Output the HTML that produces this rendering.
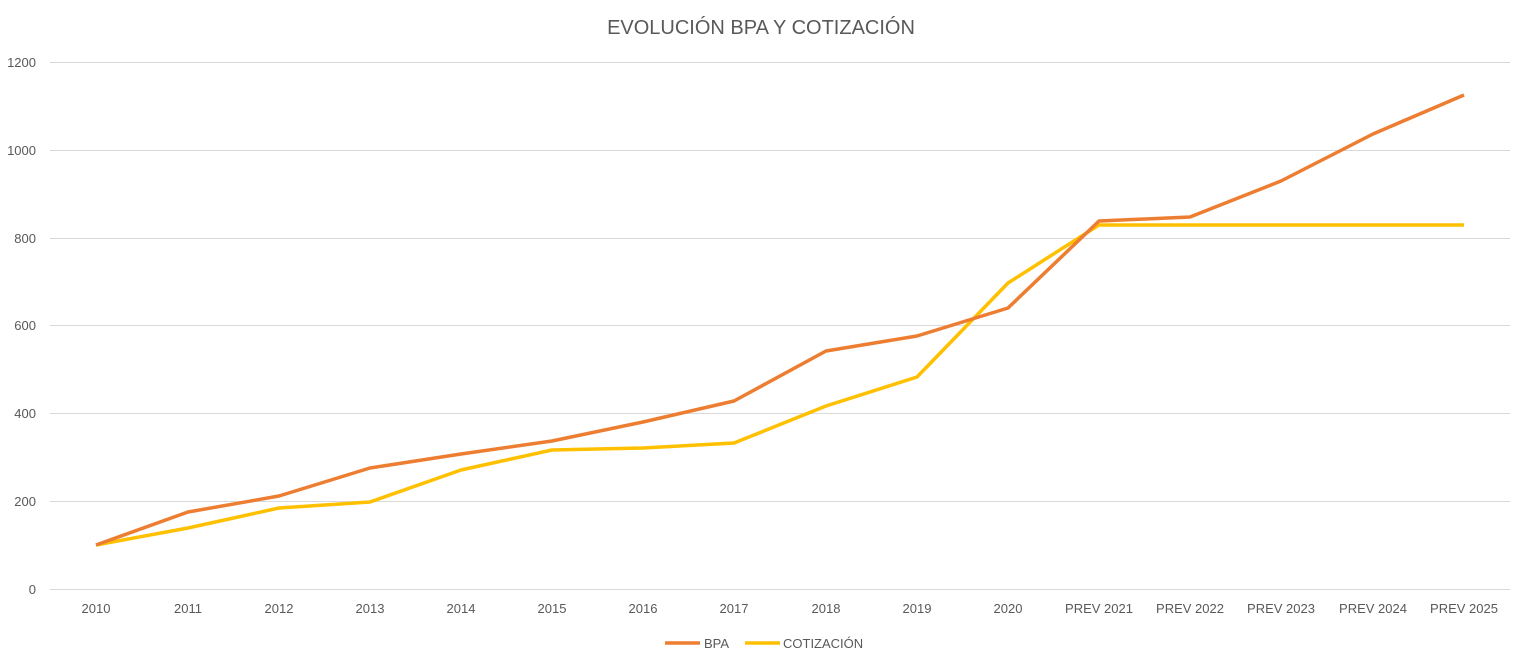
<!DOCTYPE html>
<html><head><meta charset="utf-8"><style>
body{margin:0;background:#fff;}
svg text{font-family:"Liberation Sans",sans-serif;fill:#595959;}
</style></head><body>
<svg width="1514" height="662" xmlns="http://www.w3.org/2000/svg">
<rect width="1514" height="662" fill="#fff"/>
<text x="761" y="34" font-size="20" text-anchor="middle">EVOLUCIÓN BPA Y COTIZACIÓN</text>
<g stroke="#d9d9d9" stroke-width="1">
<line x1="50" x2="1510" y1="62.5" y2="62.5"/>
<line x1="50" x2="1510" y1="150.5" y2="150.5"/>
<line x1="50" x2="1510" y1="238.5" y2="238.5"/>
<line x1="50" x2="1510" y1="325.5" y2="325.5"/>
<line x1="50" x2="1510" y1="413.5" y2="413.5"/>
<line x1="50" x2="1510" y1="501.5" y2="501.5"/>
<line x1="50" x2="1510" y1="589.5" y2="589.5"/>
</g>
<g font-size="13" text-anchor="end">
<text x="36" y="67">1200</text><text x="36" y="155">1000</text><text x="36" y="243">800</text>
<text x="36" y="330">600</text><text x="36" y="418">400</text><text x="36" y="506">200</text><text x="36" y="594">0</text>
</g>
<g font-size="13" text-anchor="middle">
<text x="96" y="613">2010</text><text x="188" y="613">2011</text><text x="279" y="613">2012</text><text x="370" y="613">2013</text>
<text x="461" y="613">2014</text><text x="552" y="613">2015</text><text x="643" y="613">2016</text><text x="734" y="613">2017</text>
<text x="826" y="613">2018</text><text x="917" y="613">2019</text><text x="1008" y="613">2020</text><text x="1099" y="613">PREV 2021</text>
<text x="1190" y="613">PREV 2022</text><text x="1281" y="613">PREV 2023</text><text x="1373" y="613">PREV 2024</text><text x="1464" y="613">PREV 2025</text>
</g>
<polyline fill="none" stroke="#FFC000" stroke-width="3.5" stroke-linejoin="round" points="96,545 188,528 279,508 370,502 461,470 552,450 643,448 734,443 826,406 917,377 1008,283 1099,225 1190,225 1281,225 1373,225 1464,225"/>
<polyline fill="none" stroke="#ED7D31" stroke-width="3.5" stroke-linejoin="round" points="96,545 188,512 279,496 370,468 461,454 552,441 643,422 734,401 826,351 917,336 1008,308 1099,221 1190,217 1281,181 1373,134 1464,95"/>
<line x1="665" x2="700" y1="643" y2="643" stroke="#ED7D31" stroke-width="3.5"/>
<text x="704" y="648" font-size="13">BPA</text>
<line x1="745" x2="780" y1="643" y2="643" stroke="#FFC000" stroke-width="3.5"/>
<text x="783" y="648" font-size="13">COTIZACIÓN</text>
</svg>
</body></html>
